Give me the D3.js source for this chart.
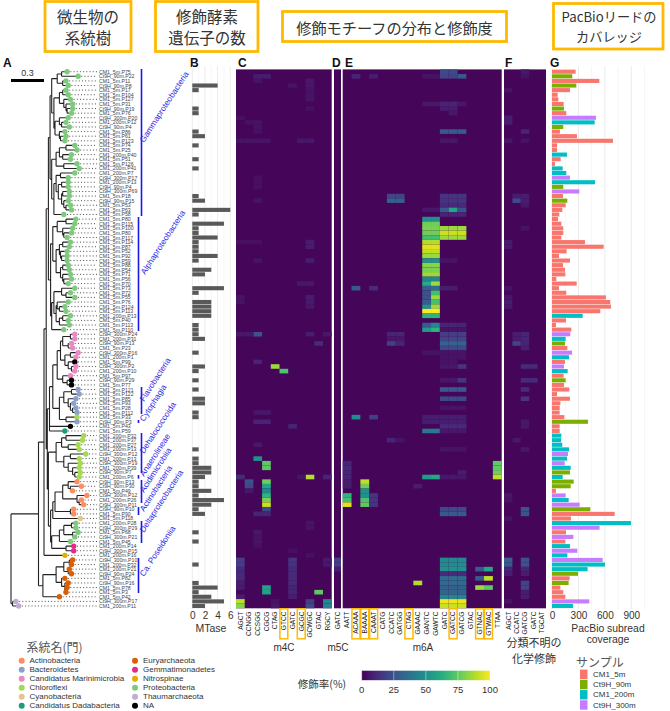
<!DOCTYPE html>
<html lang="ja">
<head>
<meta charset="utf-8" />
<title>Methylation overview</title>
<script src="https://cdn.jsdelivr.net/npm/d3@7"></script>
<style>
  html, body { margin: 0; padding: 0; background: #fff; }
  svg { display: block; }
  text { font-family: "Liberation Sans", Arial, sans-serif; }
  .jp { font-family: "Noto Sans CJK JP", sans-serif; }
</style>
</head>
<body>
<svg id="chart" width="670" height="711"></svg>
<script>
// ---- data ----
const sampleNames = ["CM1_5m", "Ct9H_90m", "CM1_200m", "Ct9H_300m"];
const sampleColors = ["#F8766D", "#7CAE00", "#00BFC4", "#C77CFF"];

// sample index of each genome, top to bottom
const rowSample = [
  0,1,0,1,0,0,0,0,1,0,3,2,1,0,0,0,0,0,2,0,0,2,2,3,2,1,3,0,1,0,0,0,0,0,0,0,0,0,0,0,
  0,0,0,0,0,0,0,0,0,0,0,0,0,2,0,0,0,3,2,1,0,3,2,0,3,2,0,1,0,0,0,0,0,0,0,0,1,0,0,2,
  2,2,2,3,2,3,2,1,2,1,1,0,3,2,3,1,0,0,2,3,0,3,0,2,3,2,3,2,2,1,0,1,0,0,0,3,2
];
// genome bin number after the sample name
const rowBin = [
  75,22,11,8,17,104,127,31,19,76,20,12,4,86,61,123,74,25,40,51,126,41,7,17,13,4,69,18,15,53,
  63,58,80,115,100,80,117,114,87,52,92,59,88,54,71,56,70,73,72,55,76,124,113,13,40,113,110,24,31,13,
  23,16,1,99,2,10,97,29,77,121,122,85,93,28,112,33,3,43,59,32,37,27,13,12,13,19,39,7,6,13,
  30,49,12,26,11,10,90,118,28,29,68,21,45,14,15,16,10,32,21,24,82,16,78,3,42,17,11
];
const phylumNames = ["Actinobacteria","Bacteroidetes","Candidatus Marinimicrobia","Chloroflexi","Cyanobacteria","Candidatus Dadabacteria",
  "Euryarchaeota","Gemmatimonadetes","Nitrospinae","Proteobacteria","Thaumarchaeota","NA"];
const phylumColors = ["#FC8D62","#8DA0CB","#E78AC3","#A6D854","#E5C494","#1B9E77","#D95F02","#E7298A","#E6AB02","#7FC97F","#BEAED4","#000000"];
// [phylum index, how many rows in a run]
const phylumRuns = [[9,57],[2,6],[11,1],[2,3],[11,2],[1,6],[3,1],[1,1],[11,1],[5,1],[3,10],[0,8],[4,1],[9,5],[7,2],[8,1],[6,9],[10,2]];

// tip distance of each genome, in 0.01 substitutions
const tipDepth = [
  51,61,50,52,50,52,54,56,56,55,52,50,53,49,50,49,58,60,55,54,60,62,58,52,52,52,53,53,52,54,55,48,
  59,58,56,55,51,54,53,51,51,51,52,53,54,55,52,58,54,58,52,49,50,54,52,53,48,
  58,58,55,56,61,59,58,59,58,54,55,55,61,62,59,57,59,60,60,60,54,49,
  66,65,61,62,68,62,63,62,63,62,60,64,56,69,64,66,57,57,63,59,59,61,58,54,57,57,49,
  56,55,53,55,49,52,51,50,44,4.5,7
];
// topology; the number after ":" is the node's distance from the root, leaves are row numbers
const gamma1 = "(((0,1):46,(2,3):47):42,(((4,5):47,(6,(7,(8,9):51):50):48):44,((10,(11,12):46):44,(13,(14,15):45):44):40):39):37";
const gamma2 = "((((16,17):50,(18,19):47):44,(20,21):48):41,(((22,23):45,((24,25):46,((26,27):47,(28,(29,30):50):48):46):43):41,31):39):37";
const alpha1 = "(((32,33):50,(34,(35,36):48):47):42,(((37,38):47,(39,(40,41):46):45):44,((42,43):47,(44,(45,46):48):47):45):41):38";
const alpha2 = "(((47,(48,49):50):46,((50,(51,52):44):42,((53,54):47,55):44):41):39,56):37";
const marini = "((((57,58):54,(59,60):52):47,((61,62):54,(63,(64,65):55):52):49):45,(66,(67,68):51):47):42";
const bacter = "(((69,70):55,(71,(72,(73,74):56):54):52):48,(75,76):50):44";
const chloro = "(((79,80):50,(81,82):52):46,((83,84):54,(85,(86,(87,88):58):56):52):48):41";
const actino = "((((89,(90,91):54):52,(92,(93,94):62):60):47,(95,96):54):40,97):38";
const delta = "((((98,99):55,(100,101):56):48,102):44,(103,104):50):37";
const eury = "((((106,107):53,(108,109):52):48,(110,(111,(112,113):50):49):46):41,114):29";
const treeText = "((((((" + gamma1 + "," + gamma2 + "):35.5,(" + alpha1 + "," + alpha2 + "):36):34,((" +
  "(" + marini + "," + bacter + "):38,77,78):35,(" + chloro + ",(" + actino + "," + delta + "):36):34):33):32,105):30," +
  eury + "):25,(115,116):1.5):0";

// B: methyltransferase gene count per row
const mtase = [
  0,0,0,4,1,0,0,0,1,1,0,0,0,1,2,0,1,0,0,1,0,1,0,0,0,0,0,1,2,0,6,1,0,5,1,1,4,1,1,1,
  4,1,0,3,2,0,0,5,1,0,3,3,3,3,0,1,1,1,2,0,0,1,0,0,2,1,0,1,0,1,0,2,2,0,1,1,0,0,0,0,
  0,0,1,0,1,1,3,3,2,1,1,3,1,5,3,1,2,0,0,0,1,0,1,0,0,0,0,1,0,0,0,1,4,1,3,5,2
];
// G: PacBio subread coverage per row
const coverage = [
  268,230,537,276,204,64,72,132,136,162,499,484,128,90,283,692,57,57,170,98,34,121,162,204,488,128,310,125,174,155,
  117,83,68,106,128,128,106,374,586,166,79,204,125,147,151,49,280,79,162,612,661,669,548,348,159,45,219,208,155,147,
  174,227,193,147,136,178,132,155,136,197,57,204,95,87,87,140,408,87,87,106,102,117,193,181,170,144,212,204,121,246,
  212,45,155,189,314,435,711,215,896,540,159,242,151,204,287,174,575,601,404,295,200,189,95,128,151,423,238
];

const motifsC = ["AGCT","CCNGG","CCSGG","CGCG","CTAG","GTCC","GATC","GCGC","GCWGC","GTAC","RGCY"];
const motifsD = ["GATC"];
const motifsE = ["AATT","ACAAA","BAAAA","CAAAT","CATG","CCATC","GATGG","CTAG","GAAAC","GANTC","GAWTC","GATC","GATCC","GATCG","GTAC","GTNAC","GTWAC","TTAA"];
const motifsF = ["AGCT","CCATC","GATCG","GATC","TGCAT"];
const boxedC = ["GTCC","GCGC"];
const boxedE = ["ACAAA","BAAAA","CAAAT","CTAG","GATCC","GTNAC","GTWAC"];

// modified fraction (%) as [row, motif index, value]; every other cell is about 1
const cellsC = [
  [57,2,25],[57,0,6],[57,1,6],[57,8,8],[57,10,6],[59,9,12],[63,2,10],[64,4,85],[65,5,72],[74,2,6],[74,3,6],[76,2,10],[76,3,10],[77,6,10],[81,2,6],
  [84,2,50],[85,3,75],[86,3,75],[88,8,88],[88,0,12],[88,10,10],[88,7,5],[89,1,25],[89,3,78],[90,1,22],[90,3,60],[91,1,6],[91,3,48],[92,3,65],[93,3,80],[94,3,92],
  [95,3,22],[96,2,10],[96,3,10],[106,0,18],[107,0,18],[106,6,15],[107,6,15],[106,10,6],[107,10,6],[108,0,12],[109,0,12],[110,0,12],[111,0,8],[112,0,8],[112,3,58],[113,3,58],
  [113,9,75],[108,6,12],[109,6,12],[110,6,12],[111,6,12],[112,6,10],[113,6,10],[114,6,8],[114,0,8],[115,0,90],[116,0,82],[115,8,18],[116,8,22],[115,10,45],[116,10,45],[115,4,5],[116,4,6],
  [1,2,8],[1,3,8],[2,2,5],[3,8,6],[3,6,5],[2,8,6],[4,8,5],[5,8,5],[6,8,5],[8,8,4],[10,0,4],[11,1,4],[11,2,5],[12,2,5],[13,2,4],[15,0,5],[15,1,5],[15,2,5],[15,3,5],[15,7,6],[15,8,6],
  [23,2,4],[24,2,4],[25,2,4],[28,2,5],[37,8,8],[38,8,8],[37,0,4],[37,1,4],[37,2,4],[41,8,8],[41,2,5],[46,7,6],[46,8,6],[49,0,5],[49,8,8],[50,0,5],[50,8,7],[51,8,6],
  [98,8,5],[99,8,5],[100,2,6],[101,2,5],[102,2,5],[103,2,4],[104,6,4],[105,8,4]
];
const cellsD = [[106,0,18],[107,0,18],[108,0,8]];
const cellsE = [
  [0,11,22],[0,12,22],[1,11,20],[1,12,20],[1,13,28],[1,1,10],[1,3,8],[1,9,5],[1,10,5],[7,9,6],[7,10,6],[7,11,10],[7,12,10],[7,13,6],[8,11,8],[8,12,8],[9,12,6],[13,11,28],[13,12,28],[13,13,28],[15,11,6],[15,12,6],
  [27,5,20],[27,6,20],[27,11,15],[27,12,15],[27,13,15],[28,5,30],[28,6,30],[28,11,15],[28,12,15],[28,13,15],[29,11,12],[29,12,12],[29,13,12],[30,11,28],[30,12,60],[30,13,25],[30,9,6],[30,10,6],[31,11,10],[31,12,10],[31,13,10],
  [32,9,50],[32,10,50],[33,9,78],[33,10,78],[34,9,80],[34,10,80],[34,11,85],[34,12,85],[34,13,85],[35,9,78],[35,10,78],[35,11,92],[35,12,92],[35,13,92],[36,9,70],[36,10,70],[36,11,85],[36,12,85],[36,13,85],
  [37,9,88],[37,10,88],[38,9,95],[38,10,95],[39,9,90],[39,10,90],[40,9,85],[40,10,85],[41,9,50],[41,10,50],[41,11,5],[41,12,5],[42,9,82],[42,10,82],[43,9,80],[43,10,80],[44,9,85],[44,10,85],[45,9,45],[45,10,45],
  [46,9,62],[46,10,85],[47,9,30],[47,10,35],[47,1,28],[47,3,12],[47,11,8],[47,12,8],[48,9,25],[48,10,70],[49,9,25],[49,10,85],[50,9,30],[50,10,70],[51,9,50],[51,10,85],[52,9,100],[52,10,100],[53,9,65],[53,10,65],
  [55,9,28],[55,10,45],[55,11,10],[55,12,10],[55,13,10],[56,9,55],[56,10,65],[56,11,5],[56,12,5],[56,13,5],[57,11,18],[57,12,18],[57,13,18],[57,5,10],[57,6,10],[58,11,20],[58,12,20],[58,13,20],[58,5,6],[58,6,6],
  [59,11,32],[59,12,32],[59,13,32],[59,5,18],[59,6,10],[60,11,22],[60,12,22],[60,13,22],[61,9,5],[61,10,5],[61,11,5],[61,12,5],[61,13,5],[62,11,5],[62,12,5],[62,13,5],[63,11,5],[63,12,5],[64,13,15],[64,11,6],[64,12,6],
  [67,11,6],[67,12,6],[67,13,15],[69,11,28],[69,12,28],[69,13,28],[71,11,22],[71,12,22],[71,13,22],[73,11,5],[73,12,5],[73,13,5],
  [75,1,48],[75,3,18],[75,9,8],[75,10,8],[75,11,8],[75,12,8],[75,13,8],[76,9,8],[76,10,8],[76,11,8],[76,12,8],[76,13,8],[77,11,12],[77,12,12],[77,13,12],[78,9,40],[78,10,40],[78,11,6],[78,12,6],[78,13,6],[80,5,10],[80,6,5],[82,11,5],[82,12,5],[82,13,5],
  [85,0,10],[85,17,75],[86,0,12],[86,17,75],[87,0,10],[87,17,78],[87,13,8],[88,0,10],[88,9,55],[88,10,60],[88,17,90],[88,11,6],[88,12,6],[88,13,6],
  [89,0,8],[89,2,90],[90,0,8],[90,2,78],[90,8,8],[91,2,50],[92,0,65],[92,2,50],[92,3,15],[93,0,70],[93,2,72],[93,3,15],[94,0,95],[94,2,75],[94,3,15],
  [95,11,22],[95,12,22],[95,13,22],[96,11,28],[96,12,28],[96,13,28],
  [106,11,48],[106,12,48],[106,13,48],[107,11,48],[107,12,48],[107,13,48],[108,11,50],[108,12,50],[108,13,50],[108,15,28],[108,16,60],[109,11,12],[109,12,12],[109,13,12],
  [110,11,35],[110,12,35],[110,13,35],[110,15,28],[110,16,90],[111,11,35],[111,12,35],[111,13,35],[111,8,88],[112,11,30],[112,12,30],[112,13,30],[112,15,85],[112,16,75],[113,11,32],[113,12,32],[113,13,32],
  [114,11,45],[114,12,45],[114,13,45],[115,11,98],[115,12,98],[115,13,98],[116,11,92],[116,12,92],[116,13,92]
];
const cellsF = [
  [0,2,6],[1,2,5],[4,0,5],[10,0,8],[11,0,8],[13,2,10],[15,0,6],[15,2,5],[27,1,8],[27,2,8],[28,1,22],[28,2,8],[29,2,6],[34,2,5],[37,0,7],[38,0,7],[47,0,5],[49,0,6],[50,0,8],[51,0,7],
  [57,1,8],[57,2,10],[58,1,8],[58,2,10],[59,1,20],[59,2,10],[60,2,8],[64,2,12],[64,3,12],[67,2,12],[67,3,12],[69,2,12],[71,2,15],[76,2,6],[77,2,6],[80,1,6],[82,2,6],[92,0,6],[93,0,5],
  [95,2,25],[96,2,25],[97,0,5],[106,0,30],[106,2,25],[107,0,28],[107,2,25],[108,0,10],[108,2,10],[109,0,8],[109,2,8],[111,2,20],[112,2,20],[113,2,8],[114,2,8],[115,0,5]
];

const scaleTicks = [0, 25, 50, 75, 100];

// clade marks as [first y, last y, x] and [name, x, y]
const cladeLines = [[69,216,141.5],[217,331,138.5],[387,414,141.5],[420,423,138.5],[433,473,141.5],[475,478.7,138.5],[480,503,141.5],[507,515,138.5],[521,543,141.5],[558,593,138.5]];
const cladeNames = [
  ["Gammaproteobacteria",144,143],["Alphaproteobacteria",145,275],["Flavobacteria",144,402],["Cytophagia",144,422],["Dehalococcoida",144,454],
  ["Anaerolineae",144,477],["Acidimicrobiia",144,493],["Actinobacteria",144,512],["Deltaproteobacteria",144,533],["Ca. Poseidoniia",144,577]
];

// ---- drawing ----
const svg = d3.select("#chart");
const orange = "#FFB900";
const textCol = "#333";

const rows = d3.range(rowSample.length);
const rowY = d3.scaleBand().domain(rows).range([69.4, 608.3]);
const rowPhylum = phylumRuns.flatMap(r => d3.range(r[1]).map(() => r[0]));
const rowName = rows.map(i => sampleNames[rowSample[i]] + ".P" + rowBin[i]);

// header boxes
function headerBox(x0, x1, y0, y1, lines, cx, size, ys) {
  svg.append("rect").attr("x", x0).attr("y", y0).attr("width", x1 - x0).attr("height", y1 - y0)
    .attr("fill", "#fff").attr("stroke", orange).attr("stroke-width", 2.8);
  lines.forEach((t, i) => {
    svg.append("text").attr("class", "jp").attr("x", cx).attr("y", ys[i]).attr("text-anchor", "middle")
      .attr("dominant-baseline", "central").attr("font-size", size).attr("fill", "#333").text(t);
  });
}
headerBox(45, 131, 1.5, 51.5, ["微生物の", "系統樹"], 88, 15.5, [16, 37]);
headerBox(155.5, 258, 1.5, 51.5, ["修飾酵素", "遺伝子の数"], 207, 15.5, [16, 37]);
headerBox(282.5, 506.5, 11.5, 41.5, ["修飾モチーフの分布と修飾度"], 394.5, 15.2, [26.5]);
headerBox(553.5, 663, 3.5, 49, ["PacBioリードの", "カバレッジ"], 609, 13.2, [16.5, 36]);

// panel letters
[["A",3],["B",190],["C",238],["D",332],["E",345],["F",505],["G",550]].forEach(d => {
  svg.append("text").attr("x", d[1]).attr("y", 66.5).attr("font-size", 12).attr("font-weight", "bold").attr("fill", "#111").text(d[0]);
});

// A: tree
function parseTree(s) {
  let i = 0;
  function number() {
    const m = /^[0-9.]+/.exec(s.slice(i));
    i += m[0].length;
    return +m[0];
  }
  function node() {
    if (s[i] === "(") {
      i++;
      const kids = [node()];
      while (s[i] === ",") { i++; kids.push(node()); }
      i += 2; // bracket and colon
      return { children: kids, depth: number() };
    }
    const row = number();
    return { row: row, depth: tipDepth[row] };
  }
  return node();
}
const treeX = d3.scaleLinear().domain([0, 30]).range([11, 44]);
const root = d3.hierarchy(parseTree(treeText));
root.eachAfter(n => {
  if (n.children) {
    const ys = n.children.map(c => c.y);
    n.y = (d3.min(ys) + d3.max(ys)) / 2;
  } else {
    n.y = rowY(n.data.row) + rowY.bandwidth() / 2;
  }
});
const gTree = svg.append("g");
const stemPath = [];
root.descendants().forEach(n => {
  const x = treeX(n.data.depth);
  if (n.parent) stemPath.push("M" + treeX(n.parent.data.depth) + "," + n.y + "H" + x);
  if (n.children) {
    const ys = n.children.map(c => c.y);
    stemPath.push("M" + x + "," + d3.min(ys) + "V" + d3.max(ys));
  }
});
gTree.append("path").attr("d", stemPath.join("")).attr("fill", "none").attr("stroke", "#222").attr("stroke-width", 1.1);

const leaves = root.leaves();
gTree.selectAll("line.dot").data(leaves).join("line").attr("class", "dot")
  .attr("x1", d => treeX(d.data.depth)).attr("x2", 97)
  .attr("y1", d => d.y).attr("y2", d => d.y)
  .attr("stroke", "#222").attr("stroke-width", 0.8).attr("stroke-dasharray", "1,2.2");
gTree.selectAll("circle").data(leaves).join("circle")
  .attr("cx", d => treeX(d.data.depth)).attr("cy", d => d.y).attr("r", 2.7)
  .attr("fill", d => phylumColors[rowPhylum[d.data.row]]);
gTree.selectAll("text").data(leaves).join("text")
  .attr("x", 99).attr("y", d => d.y).attr("dominant-baseline", "central")
  .attr("font-size", 5.2).attr("fill", "#444").text(d => rowName[d.data.row]);

// scale bar
svg.append("line").attr("x1", treeX(0)).attr("x2", treeX(30)).attr("y1", 80.5).attr("y2", 80.5).attr("stroke", "#000").attr("stroke-width", 3);
svg.append("text").attr("x", 27.5).attr("y", 75.5).attr("text-anchor", "middle").attr("font-size", 9).attr("fill", textCol).text("0.3");

// clade marks
svg.selectAll("line.clade").data(cladeLines).join("line").attr("class", "clade")
  .attr("x1", d => d[2]).attr("x2", d => d[2]).attr("y1", d => d[0]).attr("y2", d => d[1])
  .attr("stroke", "#1a1ae6").attr("stroke-width", 1.6);
svg.selectAll("text.clade").data(cladeNames).join("text").attr("class", "clade")
  .attr("transform", d => "translate(" + d[1] + "," + d[2] + ") rotate(-57)")
  .attr("font-size", 8.3).attr("fill", "#2a2ae8").text(d => d[0]);

// bar panels
function barPanel(values, x, ticks, minorTicks, color) {
  const g = svg.append("g");
  g.selectAll("line.minor").data(minorTicks).join("line").attr("class", "minor")
    .attr("x1", d => x(d)).attr("x2", d => x(d)).attr("y1", 66).attr("y2", 609)
    .attr("stroke", "#f4f4f4").attr("stroke-width", 0.8);
  g.selectAll("line.major").data(ticks).join("line").attr("class", "major")
    .attr("x1", d => x(d)).attr("x2", d => x(d)).attr("y1", 66).attr("y2", 609)
    .attr("stroke", "#ebebeb").attr("stroke-width", 1);
  g.selectAll("rect").data(values.map((v, i) => [i, v]).filter(d => d[1] > 0)).join("rect")
    .attr("x", x(0)).attr("y", d => rowY(d[0]) + 0.25).attr("height", rowY.bandwidth() - 0.5)
    .attr("width", d => x(d[1]) - x(0)).attr("fill", d => color(d[0]));
  const axis = svg.append("g").attr("transform", "translate(0,610)")
    .call(d3.axisBottom(x).tickValues(ticks).tickFormat(d3.format("d")).tickSize(0).tickPadding(2));
  axis.select(".domain").remove();
  axis.selectAll("text").attr("font-size", 10).attr("fill", textCol).attr("font-family", "Liberation Sans");
}
const mtaseX = d3.scaleLinear().domain([0, 6]).range([192.3, 230.3]);
barPanel(mtase, mtaseX, [0, 2, 4, 6], [1, 3, 5], () => "#595959");
const coverageX = d3.scaleLinear().domain([0, 900]).range([552, 631.3]);
barPanel(coverage, coverageX, [0, 300, 600, 900], [150, 450, 750, 1050], i => sampleColors[rowSample[i]]);

svg.append("text").attr("x", 211).attr("y", 632).attr("text-anchor", "middle").attr("font-size", 10.5).attr("fill", textCol).text("MTase");
svg.append("text").attr("x", 608).attr("y", 631.5).attr("text-anchor", "middle").attr("font-size", 10.4).attr("fill", textCol).text("PacBio subread");
svg.append("text").attr("x", 608).attr("y", 643).attr("text-anchor", "middle").attr("font-size", 10.4).attr("fill", textCol).text("coverage");

// heatmaps
const colorScale = d3.scaleSequential(d3.interpolateViridis).domain([0, 100]);
function heatPanel(motifs, cells, x0, x1, boxed) {
  const x = d3.scaleBand().domain(d3.range(motifs.length)).range([x0, x1]);
  const g = svg.append("g");
  g.append("rect").attr("x", x0).attr("y", rowY.range()[0]).attr("width", x1 - x0).attr("height", rowY.range()[1] - rowY.range()[0])
    .attr("fill", colorScale(1.5));
  g.selectAll("rect.cell").data(cells).join("rect").attr("class", "cell")
    .attr("x", d => x(d[1])).attr("y", d => rowY(d[0]))
    .attr("width", x.bandwidth()).attr("height", rowY.bandwidth())
    .attr("fill", d => colorScale(d[2]));
  g.selectAll("text").data(motifs).join("text")
    .attr("transform", (d, i) => "translate(" + (x(i) + x.bandwidth() / 2 + 2.3) + ",611.5) rotate(-90)")
    .attr("text-anchor", "end").attr("font-size", 6.6).attr("fill", "#222").text(d => d);
  g.selectAll("rect.box").data(motifs.map((d, i) => [d, i]).filter(d => boxed.includes(d[0]))).join("rect").attr("class", "box")
    .attr("x", d => x(d[1]) + 0.4).attr("y", 608.8).attr("width", x.bandwidth() - 0.8).attr("height", 30)
    .attr("fill", "none").attr("stroke", orange).attr("stroke-width", 1.5);
}
heatPanel(motifsC, cellsC, 236, 331.7, boxedC);
heatPanel(motifsD, cellsD, 334, 341, []);
heatPanel(motifsE, cellsE, 342.7, 501.7, boxedE);
heatPanel(motifsF, cellsF, 504, 546, []);

[["m4C",284],["m5C",338],["m6A",423]].forEach(d => {
  svg.append("text").attr("x", d[1]).attr("y", 651).attr("text-anchor", "middle").attr("font-size", 10).attr("fill", textCol).text(d[0]);
});
svg.append("text").attr("class", "jp").attr("x", 534).attr("y", 642).attr("text-anchor", "middle").attr("dominant-baseline", "central").attr("font-size", 11).attr("fill", textCol).text("分類不明の");
svg.append("text").attr("class", "jp").attr("x", 534).attr("y", 658).attr("text-anchor", "middle").attr("dominant-baseline", "central").attr("font-size", 11).attr("fill", textCol).text("化学修飾");

// colour bar
const barScale = d3.scaleLinear().domain([0, 100]).range([361.7, 490]);
const barDefs = svg.append("defs").append("linearGradient").attr("id", "viridis");
d3.range(0, 1.01, 0.1).forEach(t => barDefs.append("stop").attr("offset", t).attr("stop-color", d3.interpolateViridis(t)));
svg.append("rect").attr("x", barScale(0)).attr("y", 670.7).attr("width", barScale(100) - barScale(0)).attr("height", 9.5).attr("fill", "url(#viridis)");
svg.selectAll("line.cb").data(scaleTicks).join("line").attr("class", "cb")
  .attr("x1", d => barScale(d)).attr("x2", d => barScale(d)).attr("y1", 670.7).attr("y2", 680.2).attr("stroke", "#fff").attr("stroke-width", 0.6).attr("opacity", 0.7);
svg.selectAll("text.cb").data(scaleTicks).join("text").attr("class", "cb")
  .attr("x", d => barScale(d)).attr("y", 692.5).attr("text-anchor", "middle").attr("font-size", 9.5).attr("fill", textCol).text(d => d);
svg.append("text").attr("class", "jp").attr("x", 322).attr("y", 683).attr("text-anchor", "middle").attr("dominant-baseline", "central").attr("font-size", 10.5).attr("fill", textCol).text("修飾率(%)");

// phylum legend
svg.append("text").attr("class", "jp").attr("x", 26.5).attr("y", 646.5).attr("dominant-baseline", "central").attr("font-size", 12).attr("fill", "#555").text("系統名(門)");
const legendY = d3.scalePoint().domain(d3.range(6)).range([660.7, 705.7]);
phylumNames.forEach((name, i) => {
  const col = i < 6 ? 0 : 1;
  const y = legendY(i % 6);
  svg.append("circle").attr("cx", col ? 135 : 21.7).attr("cy", y).attr("r", 3).attr("fill", phylumColors[i]);
  svg.append("text").attr("x", col ? 143 : 29.5).attr("y", y).attr("dominant-baseline", "central").attr("font-size", 8).attr("fill", textCol).text(name);
});

// sample legend
svg.append("text").attr("class", "jp").attr("x", 576).attr("y", 661.5).attr("dominant-baseline", "central").attr("font-size", 12).attr("fill", "#555").text("サンプル");
const sampleY = d3.scalePoint().domain(sampleNames).range([674.3, 705]);
sampleNames.forEach((name, i) => {
  svg.append("rect").attr("x", 580).attr("y", sampleY(name) - 4.7).attr("width", 7.5).attr("height", 9.4).attr("fill", sampleColors[i]);
  svg.append("text").attr("x", 593).attr("y", sampleY(name)).attr("dominant-baseline", "central").attr("font-size", 8).attr("fill", textCol).text(name);
});
</script>
</body>
</html>
